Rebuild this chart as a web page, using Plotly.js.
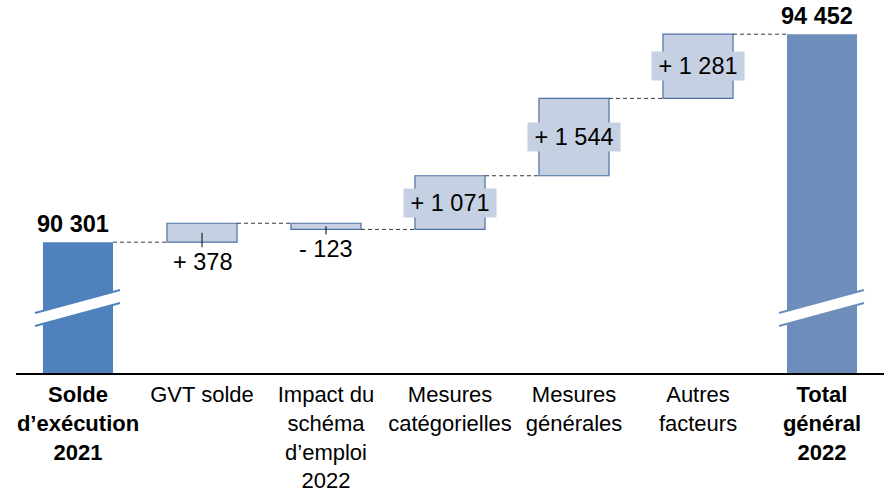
<!DOCTYPE html>
<html><head><meta charset="utf-8">
<script src="https://cdn.plot.ly/plotly-3.0.1.min.js"></script>
<style>html,body{margin:0;padding:0;background:#fff}#chart{width:885px;height:492px}</style>
</head><body><div id="chart"></div>
<script>
// ---- data ----
const categories = ["<b>Solde</b><br><b>d’exécution</b><br><b>2021</b>", "GVT solde", "Impact du<br>schéma<br>d’emploi<br>2022", "Mesures<br>catégorielles", "Mesures<br>générales", "Autres<br>facteurs", "<b>Total</b><br><b>général</b><br><b>2022</b>"];
const values = [90301, 378, -123, 1071, 1544, 1281, 94452];
const measures = ["absolute", "relative", "relative", "relative", "relative", "relative", "total"];

// ---- styles ----
const FONT = "Liberation Sans, Arial, sans-serif";
const totalColors = ["#4F81BD", "#6D8EBB"];
const deltaFill = "#C5D0E2";
const deltaLine = "#4E6FA6";
const BAR_W = 0.565;
const Y_MIN = 87690, Y_MAX = 95135, PLOT_H = 373;
const upp = (Y_MAX - Y_MIN) / PLOT_H; // units per pixel
const NUM_SIZE = 23.5;

function fmt(n) {
  return Math.abs(n).toString().replace(/\B(?=(\d{3})+(?!\d))/g, " ");
}

// cumulative levels
const lowArr = [], highArr = [], levels = [];
let level = 0;
values.forEach((v, i) => {
  let start, end;
  if (measures[i] === "relative") { start = level; end = level + v; }
  else { start = 0; end = v; }
  level = end;
  levels.push(end);
  lowArr.push(Math.min(start, end));
  highArr.push(Math.max(start, end));
});

const xs = values.map((_, i) => i);
const totIdx = xs.filter(i => measures[i] !== "relative");
const relIdx = xs.filter(i => measures[i] === "relative");

const traces = [
  {
    type: "bar", x: totIdx, y: totIdx.map(i => values[i]), base: 0,
    width: BAR_W, marker: {color: totalColors, line: {width: 0}},
    hoverinfo: "skip", showlegend: false
  },
  {
    type: "bar", x: relIdx,
    y: relIdx.map(i => values[i]),
    base: relIdx.map(i => levels[i] - values[i]),
    width: BAR_W, marker: {color: deltaFill, line: {color: deltaLine, width: 1.2}},
    hoverinfo: "skip", showlegend: false
  }
];

const shapes = [];
const annotations = [];

// connectors
for (let i = 0; i < values.length - 1; i++) {
  shapes.push({type: "line", xref: "x", yref: "y",
    x0: i + BAR_W / 2, x1: i + 1 - BAR_W / 2, y0: levels[i], y1: levels[i],
    line: {color: "#3a3a3a", width: 1, dash: "4px,3px"}});
}

// axis breaks on total bars
const pxY = p => Y_MAX - p * upp;
totIdx.forEach((i, k) => {
  const xl = i - 43 / 124, xr = i + 42 / 124;
  const uL = pxY(313), uR = pxY(290), lL = pxY(326), lR = pxY(303);
  shapes.push({type: "path", xref: "x", yref: "y",
    path: `M ${xl},${uL} L ${xr},${uR} L ${xr},${lR} L ${xl},${lL} Z`,
    fillcolor: "#FFFFFF", line: {width: 0}});
  shapes.push({type: "line", xref: "x", yref: "y", x0: xl, x1: xr, y0: uL, y1: uR,
    line: {color: totalColors[k], width: 2}});
  shapes.push({type: "line", xref: "x", yref: "y", x0: xl, x1: xr, y0: lL, y1: lR,
    line: {color: totalColors[k], width: 2}});
  annotations.push({x: i, y: values[i], xref: "x", yref: "y", yanchor: "bottom",
    xshift: -5, yshift: 3, showarrow: false, text: "<b>" + fmt(values[i]) + "</b>",
    font: {family: FONT, size: NUM_SIZE, color: "#000"}});
});

// delta labels
relIdx.forEach(i => {
  const v = values[i];
  const txt = (v >= 0 ? "+ " : "- ") + fmt(v);
  const mid = (lowArr[i] + highArr[i]) / 2;
  if (Math.abs(v) < 500) {
    const yEnd = lowArr[i] - 5 * upp;
    shapes.push({type: "line", xref: "x", yref: "y", x0: i, x1: i, y0: mid, y1: yEnd,
      line: {color: "#000", width: 1}});
    annotations.push({x: i, y: yEnd, xref: "x", yref: "y", yanchor: "top",
      showarrow: false, text: txt, font: {family: FONT, size: NUM_SIZE, color: "#000"}});
  } else {
    annotations.push({x: i, y: mid, xref: "x", yref: "y", yanchor: "middle",
      showarrow: false, text: txt, bgcolor: deltaFill, width: 88, height: 24, borderpad: 2,
      font: {family: FONT, size: NUM_SIZE, color: "#000"}});
  }
});

const layout = {
  width: 885, height: 492,
  margin: {l: 16, r: 1, t: 0, b: 119},
  paper_bgcolor: "#fff", plot_bgcolor: "#fff",
  font: {family: FONT, size: 22, color: "#000"},
  xaxis: {range: [-0.5, 6.5], tickvals: xs, ticktext: categories, showgrid: false,
    zeroline: false, showline: true, linecolor: "#000", linewidth: 2, ticks: "",
    ticklabelstandoff: 1,
    tickfont: {family: FONT, size: 22, color: "#000"}, fixedrange: true},
  yaxis: {range: [Y_MIN, Y_MAX], visible: false, showgrid: false, zeroline: false, fixedrange: true},
  barmode: "overlay",
  shapes: shapes, annotations: annotations, showlegend: false
};

Plotly.newPlot("chart", traces, layout, {displayModeBar: false, staticPlot: true});
</script></body></html>
